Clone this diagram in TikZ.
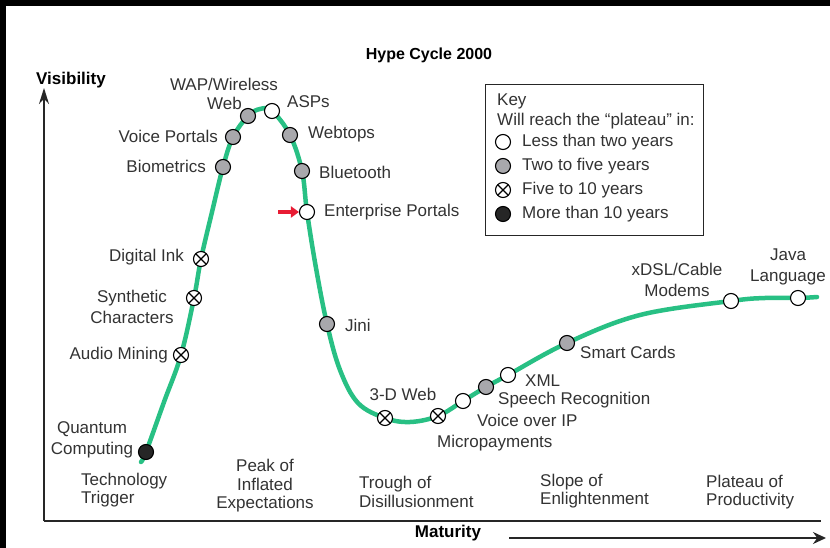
\documentclass[tikz,border=0pt]{standalone}
\usepackage{fontspec}
\setmainfont{Liberation Sans}
\usetikzlibrary{arrows.meta}
\definecolor{hypegreen}{RGB}{40,192,132}
\definecolor{mkgray}{RGB}{168,168,172}
\definecolor{keyred}{RGB}{232,28,52}
\tikzset{
 lbl/.style={font=\fontsize{17}{21}\selectfont, text=black!80, inner sep=0pt},
 phase/.style={font=\fontsize{17}{18.5}\selectfont, text=black!80, inner sep=0pt},
 bold/.style={font=\bfseries\fontsize{17}{20}\selectfont, inner sep=0pt},
 mk/.style={circle, draw=black, line width=1.1pt, minimum size=15pt, inner sep=0pt},
 mkw/.style={mk, fill=white},
 mkg/.style={mk, fill=mkgray},
 mkb/.style={mk, fill=black!85},
 mkx/.style={mk, fill=white, path picture={\draw[line width=1.3pt] (path picture bounding box.north west) -- (path picture bounding box.south east) (path picture bounding box.north east) -- (path picture bounding box.south west);}},
 hype/.style={draw=hypegreen, line width=4.5pt, line join=round, line cap=round},
 axis/.style={line width=1.5pt, black!85},
}
\begin{document}
\begin{tikzpicture}[x=1pt,y=-1pt]
\useasboundingbox (0,0) rectangle (830,548);
\fill[white] (0,0) rectangle (830,548);
\fill[black] (0,0) rectangle (830,6);
\fill[black] (0,0) rectangle (6,548);

% titles
\node[font=\bfseries\fontsize{16}{18}\selectfont, inner sep=0pt] (title) at (429,55) {Hype Cycle 2000};
\node[bold] (vis) at (71,80) {Visibility};
\node[bold] (mat) at (448,533) {Maturity};

% axes
\coordinate (origin) at (44,521);
\coordinate (ytop) at (44,88);
\coordinate (xend) at (821,521);
\draw[axis, -{Stealth[length=16pt,width=10pt]}] (origin) -- (ytop);
\draw[axis] (origin) -- (xend);
\coordinate (ms) at (509,538);
\coordinate (me) at (826,538);
\draw[axis, -{Stealth[length=13pt,width=12pt]}] (ms) -- (me);

% curve points
\coordinate (c0) at (141,462);
\coordinate (pQC) at (146,452);
\coordinate (e1) at (164,402);
\coordinate (pAM) at (181,355);
\coordinate (pSC) at (194,298);
\coordinate (pDI) at (201,259);
\coordinate (e2) at (212,212);
\coordinate (pBio) at (223,167);
\coordinate (pVP) at (233,137);
\coordinate (pWAP) at (248,116);
\coordinate (e3) at (260,109);
\coordinate (pASP) at (272,111);
\coordinate (pWT) at (290,135);
\coordinate (pBT) at (302,171);
\coordinate (pEP) at (307,212);
\coordinate (e4) at (316,268);
\coordinate (pJini) at (327,324);
\coordinate (e5) at (340,370);
\coordinate (e6) at (358,403);
\coordinate (p3D) at (385,418);
\coordinate (e7) at (410,422);
\coordinate (pMP) at (438,416);
\coordinate (pVoIP) at (463,401);
\coordinate (pSR) at (486,387);
\coordinate (pXML) at (508,375);
\coordinate (pSmart) at (567,343);
\coordinate (e8) at (640,315);
\coordinate (pDSL) at (731,301);
\coordinate (e9) at (765,298);
\coordinate (pJava) at (798,298);
\coordinate (c1) at (817,297);

\draw[hype] plot[smooth, tension=0.6] coordinates {(c0) (pQC) (e1) (pAM) (pSC) (pDI) (e2) (pBio) (pVP) (pWAP) (e3) (pASP) (pWT) (pBT) (pEP) (e4) (pJini) (e5) (e6) (p3D) (e7) (pMP) (pVoIP) (pSR) (pXML) (pSmart) (e8) (pDSL) (e9) (pJava) (c1)};

% markers
\node[mkb] (qc) at (pQC) {};
\node[mkx] (am) at (pAM) {};
\node[mkx] (sc) at (pSC) {};
\node[mkx] (di) at (pDI) {};
\node[mkg] (bio) at (pBio) {};
\node[mkg] (vp) at (pVP) {};
\node[mkg] (wap) at (pWAP) {};
\node[mkw] (asp) at (pASP) {};
\node[mkg] (wt) at (pWT) {};
\node[mkg] (bt) at (pBT) {};
\node[mkw] (ep) at (pEP) {};
\node[mkg] (jini) at (pJini) {};
\node[mkx] (tdw) at (p3D) {};
\node[mkx] (mp) at (pMP) {};
\node[mkw] (voip) at (pVoIP) {};
\node[mkg] (sr) at (pSR) {};
\node[mkw] (xml) at (pXML) {};
\node[mkg] (smart) at (pSmart) {};
\node[mkw] (dsl) at (pDSL) {};
\node[mkw] (java) at (pJava) {};

% red arrow
\coordinate (ra) at (278,212);
\draw[keyred, line width=4pt, -{Triangle[length=8pt,width=11pt]}] (ra) -- (ep.west);

% labels
\node[lbl, align=center] (lqc) at (92,440) {Quantum\\Computing};
\node[lbl, anchor=east] (lam) at (168,355) {Audio Mining};
\node[lbl, align=center] (lsc) at (132,307) {Synthetic\\Characters};
\node[lbl, anchor=east] (ldi) at (184,257) {Digital Ink};
\node[lbl, anchor=east] (lbio) at (206,166) {Biometrics};
\node[lbl, anchor=east] (lvp) at (218,136) {Voice Portals};
\node[lbl] (lwap) at (224,84) {WAP/Wireless};
\node[lbl, anchor=east] (lweb) at (242,103) {Web};
\node[lbl, anchor=west] (lasp) at (287,102) {ASPs};
\node[lbl, anchor=west] (lwt) at (308,134) {Webtops};
\node[lbl, anchor=west] (lbt) at (319,172) {Bluetooth};
\node[lbl, anchor=west] (lep) at (324,212) {Enterprise Portals};
\node[lbl, anchor=west] (ljini) at (345,325) {Jini};
\node[lbl] (ltdw) at (403,394) {3-D Web};
\node[lbl, anchor=west] (lmp) at (437,443) {Micropayments};
\node[lbl, anchor=west] (lvoip) at (477,420) {Voice over IP};
\node[lbl, anchor=west] (lsr) at (498,400) {Speech Recognition};
\node[lbl, anchor=west] (lxml) at (525,381) {XML};
\node[lbl, anchor=west] (lsmart) at (580,352) {Smart Cards};
\node[lbl, align=center] (ldsl) at (677,280) {xDSL/Cable\\Modems};
\node[lbl, align=center] (ljava) at (788,267) {Java\\Language};

% phases
\node[phase, align=left, anchor=west] (ph1) at (81,490) {Technology\\Trigger};
\node[phase, align=center] (ph2) at (265,486) {Peak of\\Inflated\\Expectations};
\node[phase, align=left, anchor=west] (ph3) at (359,492) {Trough of\\Disillusionment};
\node[phase, align=left, anchor=west] (ph4) at (540,491) {Slope of\\Enlightenment};
\node[phase, align=left, anchor=west] (ph5) at (706,492) {Plateau of\\Productivity};

% key
\node[draw=black!85, line width=1.2pt, minimum width=218pt, minimum height=151pt, anchor=north west, inner sep=0pt] (key) at (485,84) {};
\node[lbl, anchor=west] (kt) at (497,101) {Key};
\node[lbl, anchor=west] (kt2) at (497,121) {Will reach the “plateau” in:};
\node[mkw] (k1) at (503,142) {};
\node[mkg] (k2) at (503,166) {};
\node[mkx] (k3) at (503,190) {};
\node[mkb] (k4) at (503,214) {};
\node[lbl, anchor=west] (kl1) at (522,142) {Less than two years};
\node[lbl, anchor=west] (kl2) at (522,166) {Two to five years};
\node[lbl, anchor=west] (kl3) at (522,190) {Five to 10 years};
\node[lbl, anchor=west] (kl4) at (522,214) {More than 10 years};
\end{tikzpicture}
\end{document}
